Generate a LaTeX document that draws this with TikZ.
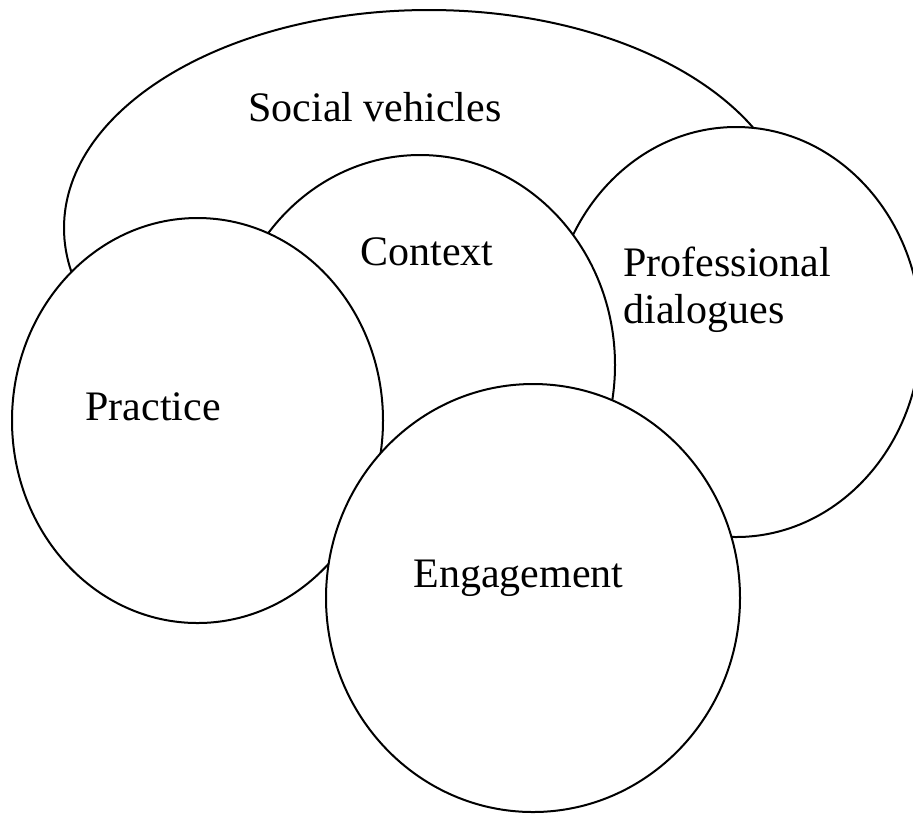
\documentclass[tikz,border=0pt]{standalone}
\usepackage{fontspec}
\setmainfont{Liberation Serif}
\tikzset{
  bubble/.style={draw=black, fill=white, line width=1pt},
  bubbletext/.style={inner sep=0pt, anchor=base west, align=left,
    font=\fontsize{21}{23.5}\selectfont}
}
\begin{document}
\begin{tikzpicture}[x=0.5pt, y=-0.5pt]
  \useasboundingbox (0,0) rectangle (913,816);
  % back to front
  \draw[bubble] (429,228) ellipse [x radius=365, y radius=218];
  \draw[bubble] (736,332) ellipse [x radius=185, y radius=205];
  \draw[bubble] (420,365) ellipse [x radius=195, y radius=210];
  \draw[bubble] (197.5,420.5) ellipse [x radius=185.5, y radius=202.5];
  \draw[bubble] (533,598) ellipse [x radius=207, y radius=214];
  % texts
  \node[bubbletext] (social) at (248,121) {Social vehicles};
  \node[bubbletext] (context) at (360,265) {Context};
  \node[bubbletext] (dialogues) at (623,323) {Professional\\dialogues};
  \node[bubbletext] (practice) at (85,420) {Practice};
  \node[bubbletext] (engagement) at (413,587) {Engagement};
\end{tikzpicture}
\end{document}
